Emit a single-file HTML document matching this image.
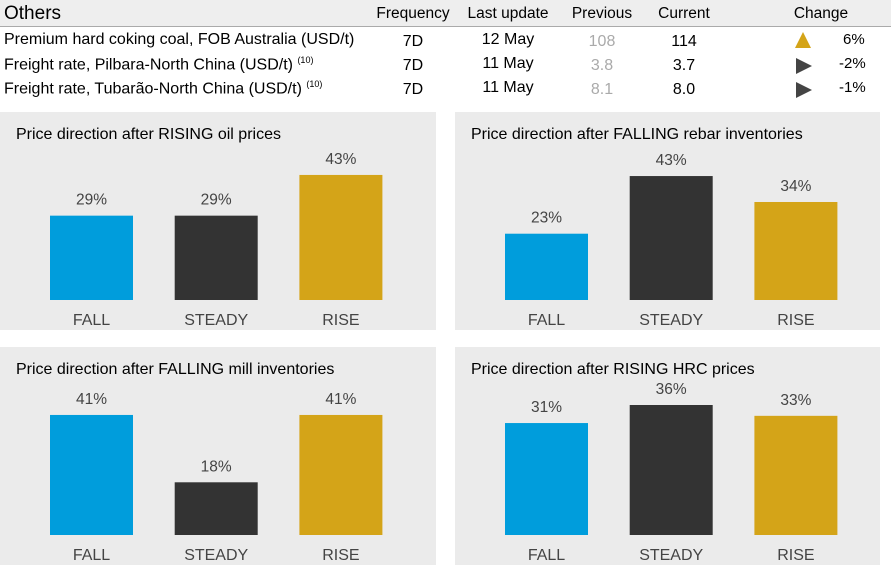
<!DOCTYPE html>
<html><head><meta charset="utf-8">
<style>
body{margin:0;width:891px;height:573px;background:#fff;font-family:"Liberation Sans",sans-serif;color:#000;position:relative;overflow:hidden}
.t{position:absolute;white-space:nowrap}
.hdr{position:absolute;left:0;top:0;width:891px;height:26px;background:#eeeeee;border-bottom:1px solid #aaa}
.c{text-align:center;transform:translateX(-50%)}
.g{color:#aaa}
sup{font-size:9px}
</style></head><body>
<div class="hdr"></div>
<div class="t" style="left:4px;top:3px;font-size:19px">Others</div>
<div class="t c" style="left:413px;top:5px;font-size:15.5px">Frequency</div>
<div class="t c" style="left:508px;top:5px;font-size:15.5px">Last update</div>
<div class="t c" style="left:602px;top:5px;font-size:15.5px">Previous</div>
<div class="t c" style="left:684px;top:5px;font-size:15.5px">Current</div>
<div class="t c" style="left:821px;top:5px;font-size:15.5px">Change</div>
<div id="rows"></div>
<svg id="charts" width="891" height="573" style="position:absolute;left:0;top:0"></svg>
<script>
const rowNames=["Premium hard coking coal, FOB Australia (USD/t)","Freight rate, Pilbara-North China (USD/t) <sup>(10)</sup>","Freight rate, Tubarão-North China (USD/t) <sup>(10)</sup>"];
const rowFreq=["7D","7D","7D"];
const rowDate=["12 May","11 May","11 May"];
const rowPrev=["108","3.8","8.1"];
const rowCur=["114","3.7","8.0"];
const rowChg=["6%","-2%","-1%"];
const rowUp=[true,false,false];
const rc=document.getElementById('rows');
rowNames.forEach((n,i)=>{
  const y=31+i*24;
  let h=`<div class="t" style="left:4px;top:${y}px;font-size:16px">${n}</div>
  <div class="t c" style="left:413px;top:${y+2}px;font-size:16px">${rowFreq[i]}</div>
  <div class="t c" style="left:508px;top:${y}px;font-size:16px">${rowDate[i]}</div>
  <div class="t c g" style="left:602px;top:${y+2}px;font-size:16px">${rowPrev[i]}</div>
  <div class="t c" style="left:684px;top:${y+2}px;font-size:16px">${rowCur[i]}</div>
  <div class="t" style="left:${rowUp[i]?843:839}px;top:${y}px;font-size:15px">${rowChg[i]}</div>`;
  h+= rowUp[i]? `<svg class="t" style="left:794px;top:${y+1}px" width="18" height="18"><polygon points="9,0 17,16 1,16" fill="#d4a418"/></svg>`
     : `<svg class="t" style="left:796px;top:${y+3}px" width="18" height="18"><polygon points="0,0 16,8 0,16" fill="#444"/></svg>`;
  const d=document.createElement('div');
  
  
  d.innerHTML=h;rc.appendChild(d);
});

const titles=["Price direction after RISING oil prices","Price direction after FALLING rebar inventories","Price direction after FALLING mill inventories","Price direction after RISING HRC prices"];
const categories=["FALL","STEADY","RISE"];
const values1=[29,29,43];
const values2=[23,43,34];
const values3=[41,18,41];
const values4=[31,36,33];
const yMaxes=[44.7,45.1,44.4,36];
const allVals=[values1,values2,values3,values4];
const colors=["#009ddc","#333333","#d4a418"];
const NS="http://www.w3.org/2000/svg";
const svg=document.getElementById('charts');
function mk(t,a){const e=document.createElementNS(NS,t);for(const k in a)e.setAttribute(k,a[k]);return e;}
const panels=[[0,112,436,218],[455,112,425,218],[0,347,436,218],[455,347,425,218]];
panels.forEach((p,pi)=>{
  const [px,py,pw,ph]=p;
  const g=mk('g',{});
  
  
  g.appendChild(mk('rect',{x:px,y:py,width:pw,height:ph,fill:'#ebebeb'}));
  const tt=mk('text',{x:px+16,y:py+27,'font-size':16,fill:'#000'});
  tt.textContent=titles[pi];
  
  g.appendChild(tt);
  const base=py+188, H=130;
  const ys=v=>base-v/yMaxes[pi]*H;
  const x0=px+50;
  allVals[pi].forEach((v,i)=>{
    const x=x0+i*124.7;
    const r=mk('rect',{x:x,y:ys(v),width:83,height:base-ys(v),fill:colors[i]});
    
    
    g.appendChild(r);
    const lv=mk('text',{x:x+41.5,y:ys(v)-11,'font-size':15.5,fill:'#444','text-anchor':'middle'});
    lv.textContent=v+'%';
    
    g.appendChild(lv);
    const lc=mk('text',{x:x+41.5,y:base+25,'font-size':16,fill:'#444','text-anchor':'middle'});
    lc.textContent=categories[i];
    
    g.appendChild(lc);
  });
  svg.appendChild(g);
});
</script>
</body></html>
